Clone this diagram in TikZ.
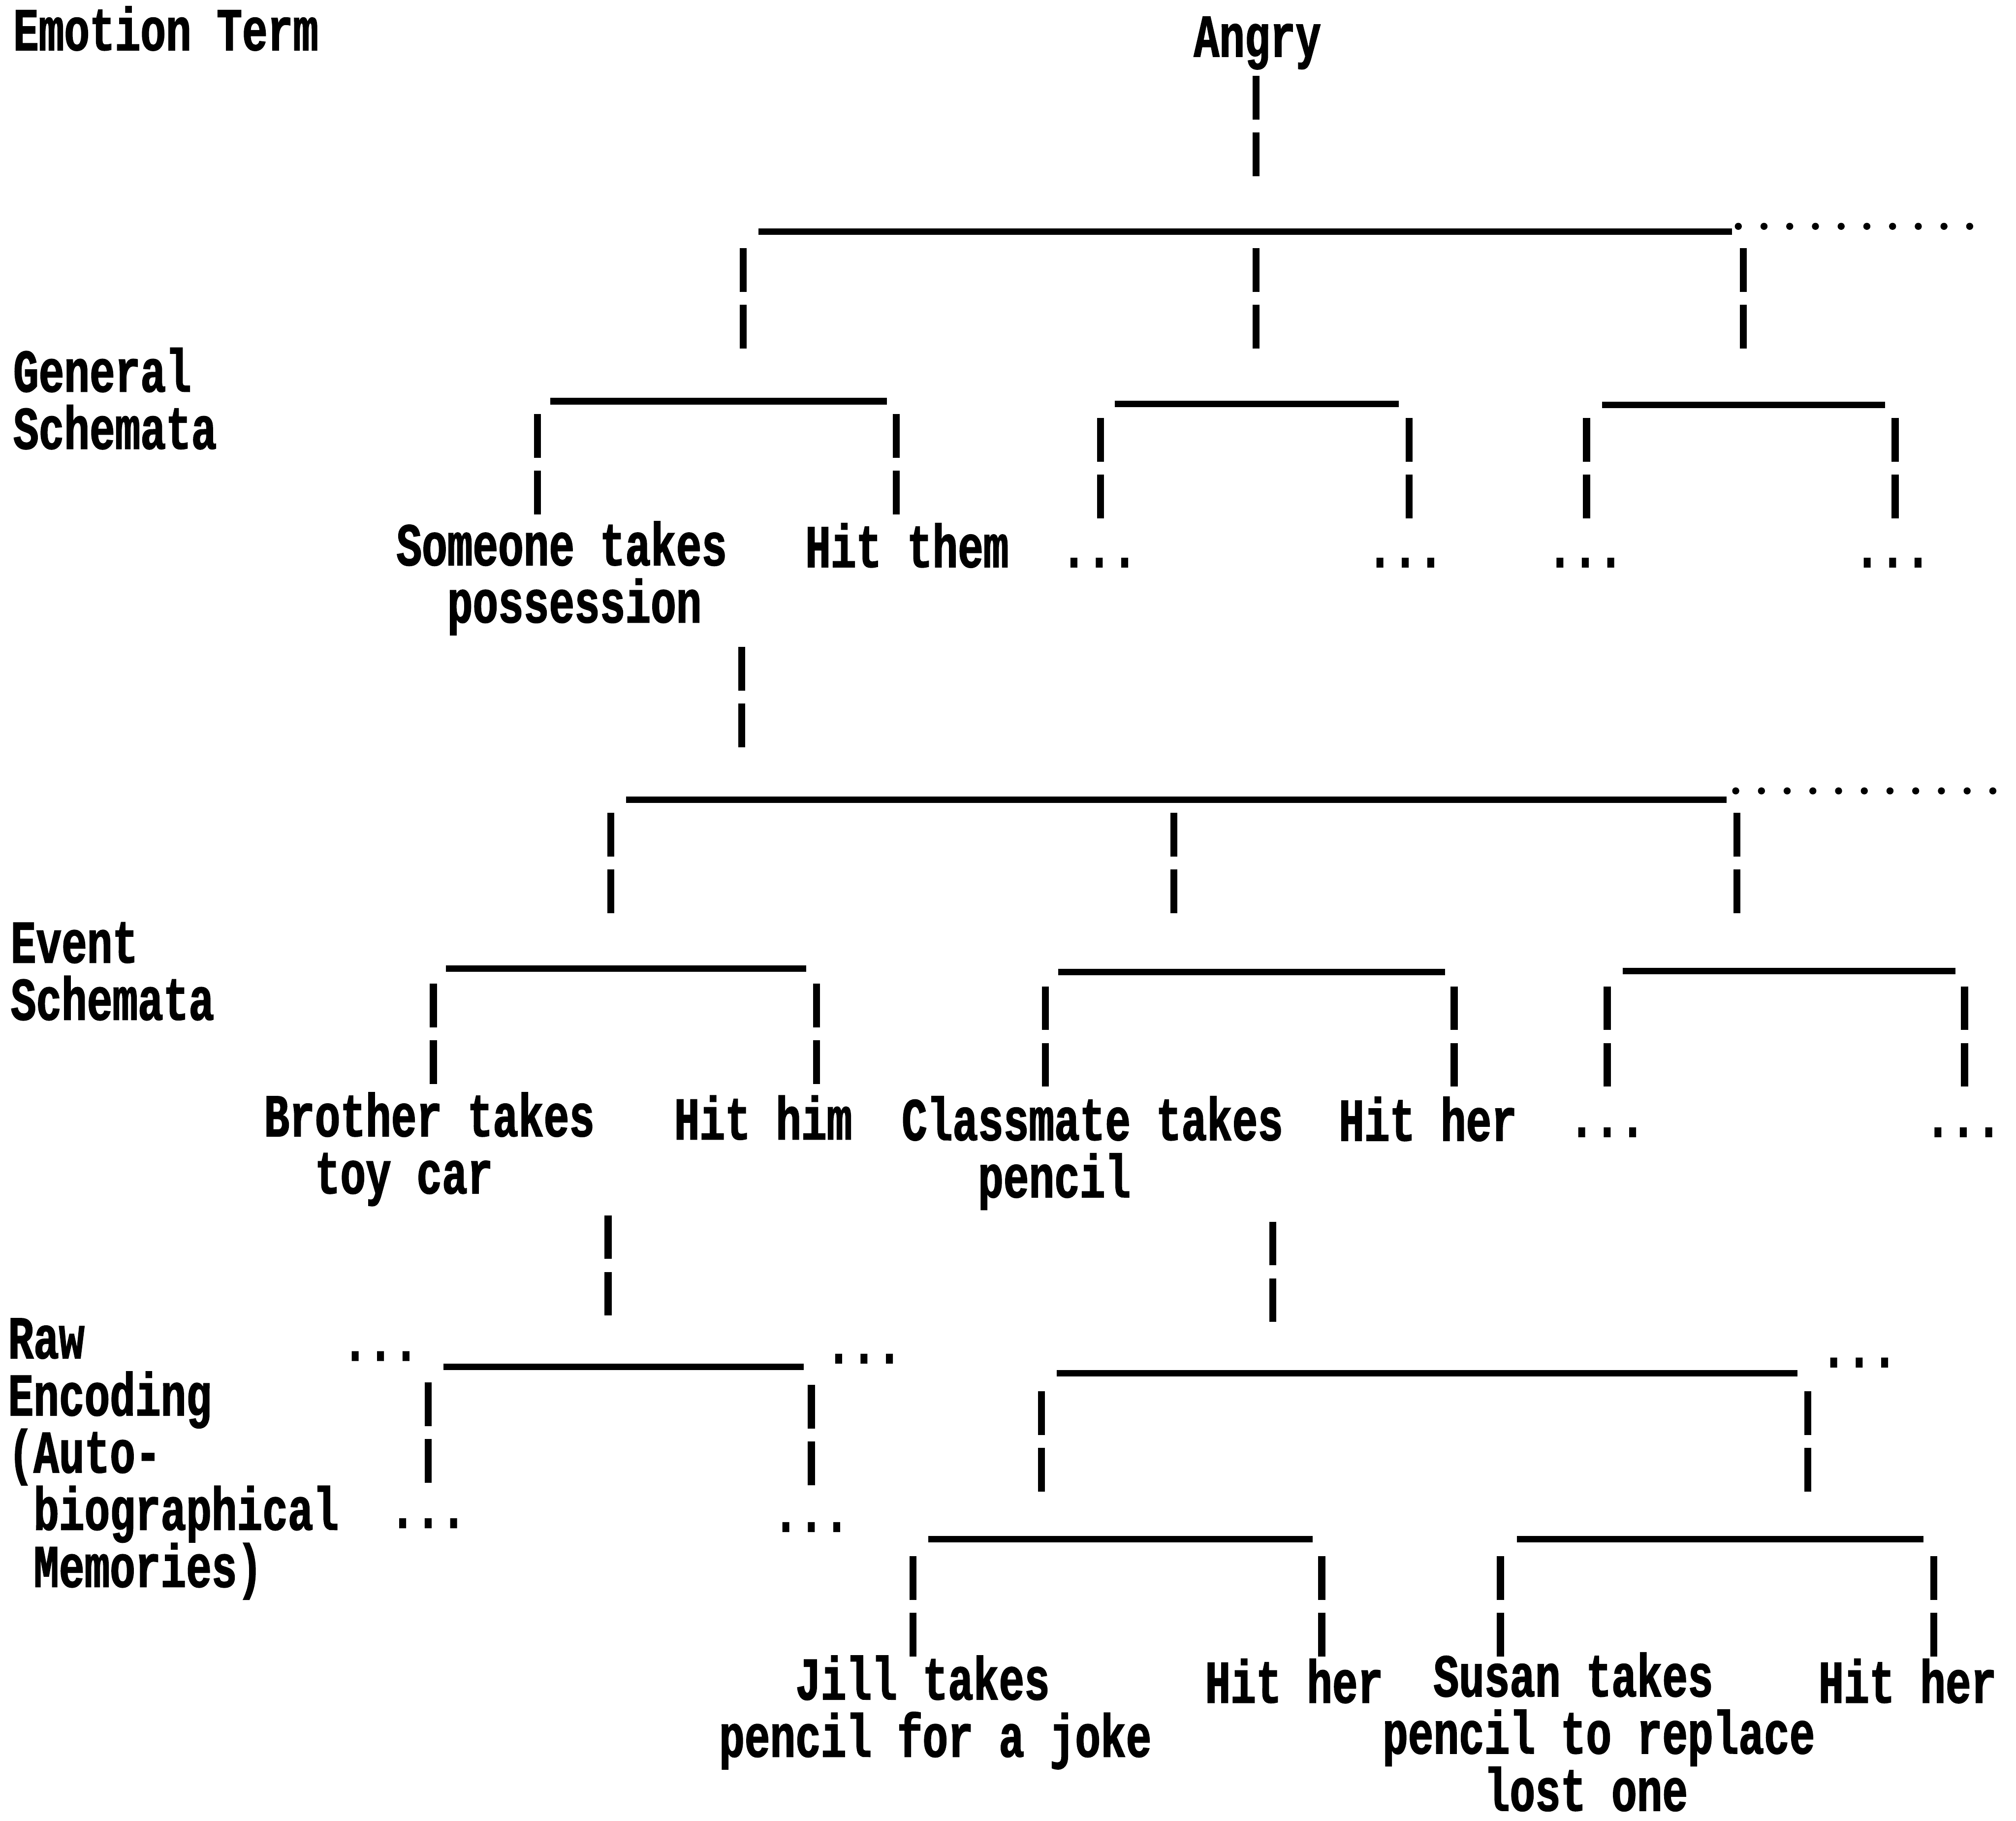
\documentclass[tikz,border=0pt]{standalone}
\usepackage{fontspec}
\newfontfamily\typefont{Liberation Mono}[FakeStretch=0.70,FakeBold=1.5]

\begin{document}
\begin{tikzpicture}[
  x=0.02cm, y=-0.02cm,
  railline/.style={line width=0.1cm},
  stemline/.style={line width=0.11cm,dash pattern=on 0.68cm off 0.2cm},
  dotline/.style={line width=0.11cm,line cap=round,dash pattern=on 0pt off 0.4cm},
  lbl/.style={inner sep=0pt,anchor=base west,align=left,
    font=\typefont\bfseries\fontsize{26.8}{25.3}\selectfont},
  more/.style={lbl,anchor=base}
]

\def\rail#1:#2,#3,#4;{
  \coordinate (#1l) at (#2,#4);
  \coordinate (#1r) at (#3,#4);
  \draw[railline] (#1l) -- (#1r);
}
\def\stem#1:#2,#3;{
  \coordinate (#1) at (#2,#3);
  \draw[stemline] (#1) -- ++(0,78);
}

\useasboundingbox (0,0) rectangle (1568,1416);

% level names (multi-line nodes sit on their last line)
\node[lbl] (emo) at (10,39) {Emotion Term};
\node[lbl] (gen) at (10,349) {General\\Schemata};
\node[lbl] (evt) at (8,793) {Event\\Schemata};
\node[lbl] (raw) at (6,1234) {Raw\\Encoding\\(Auto-\\\phantom{(}biographical\\\phantom{(}Memories)};

% emotion term
\node[more] (angry) at (978,44) {Angry};
\stem s0:977,59;
\rail r1:590,1347,180;
\coordinate (d1s) at (1352,176);
\coordinate (d1e) at (1545,176);
\draw[dotline] (d1s) -- (d1e);
\foreach \n/\x in {a/578,b/977,c/1356} \stem s1\n:\x,193;

% general schemata
\rail r2a:428,690,312;
\rail r2b:867,1088,314;
\rail r2c:1246,1466,315;
\foreach \n/\x in {a/418,b/697} \stem s2\n:\x,322;
\foreach \n/\x in {c/856,d/1096,e/1234,f/1474} \stem s2\n:\x,325;

\node[lbl] (someone) at (308,484) {Someone takes\\\phantom{xx}possession};
\node[lbl] (hitthem) at (626,441) {Hit them};
\foreach \n/\x in {a/855,b/1093,c/1233,d/1472}
  \node[more] (m1\n) at (\x,441) {...};

\stem s3:577,503;
\rail r3:487,1343,622;
\coordinate (d2s) at (1350,615);
\coordinate (d2e) at (1558,615);
\draw[dotline] (d2s) -- (d2e);
\foreach \n/\x in {a/475,b/913,c/1351} \stem s4\n:\x,632;

% event schemata
\rail r4a:347,627,753;
\rail r4b:823,1124,756;
\rail r4c:1262,1521,755;
\foreach \n/\x in {a/337,b/635} \stem s5\n:\x,765;
\foreach \n/\x in {c/813,d/1131,e/1250,f/1528} \stem s5\n:\x,767;

\node[lbl] (brother) at (205,928) {Brother takes\\\phantom{xx}toy car};
\node[lbl] (hithim) at (524,886) {Hit him};
\node[lbl] (classmate) at (701,931) {Classmate takes\\\phantom{xxx}pencil};
\node[lbl] (hither) at (1041,887) {Hit her};
\foreach \n/\x in {a/1250,b/1527}
  \node[more] (m2\n) at (\x,884) {...};

\stem s6a:473,945;
\stem s6b:990,950;

% raw encoding
\node[more] (m3a) at (296,1058) {...};
\rail r5a:345,625,1063;
\node[more] (m3b) at (672,1060) {...};
\rail r5b:822,1398,1068;
\node[more] (m3c) at (1446,1063) {...};
\stem s7a:333,1075;
\stem s7b:631,1077;
\stem s7c:810,1082;
\stem s7d:1406,1082;
\node[more] (m4a) at (333,1188) {...};
\node[more] (m4b) at (631,1191) {...};

\rail r6a:722,1021,1197;
\rail r6b:1180,1496,1197;
\foreach \n/\x in {a/710,b/1028,c/1167,d/1504} \stem s8\n:\x,1210;

\node[lbl] (jill) at (559,1366) {\phantom{xxx}Jill takes\\pencil for a joke};
\node[lbl] (hither2) at (937,1324) {Hit her};
\node[lbl] (susan) at (1075,1408) {\phantom{xx}Susan takes\\pencil to replace\\\phantom{xxxx}lost one};
\node[lbl] (hither3) at (1414,1324) {Hit her};

\end{tikzpicture}
\end{document}
